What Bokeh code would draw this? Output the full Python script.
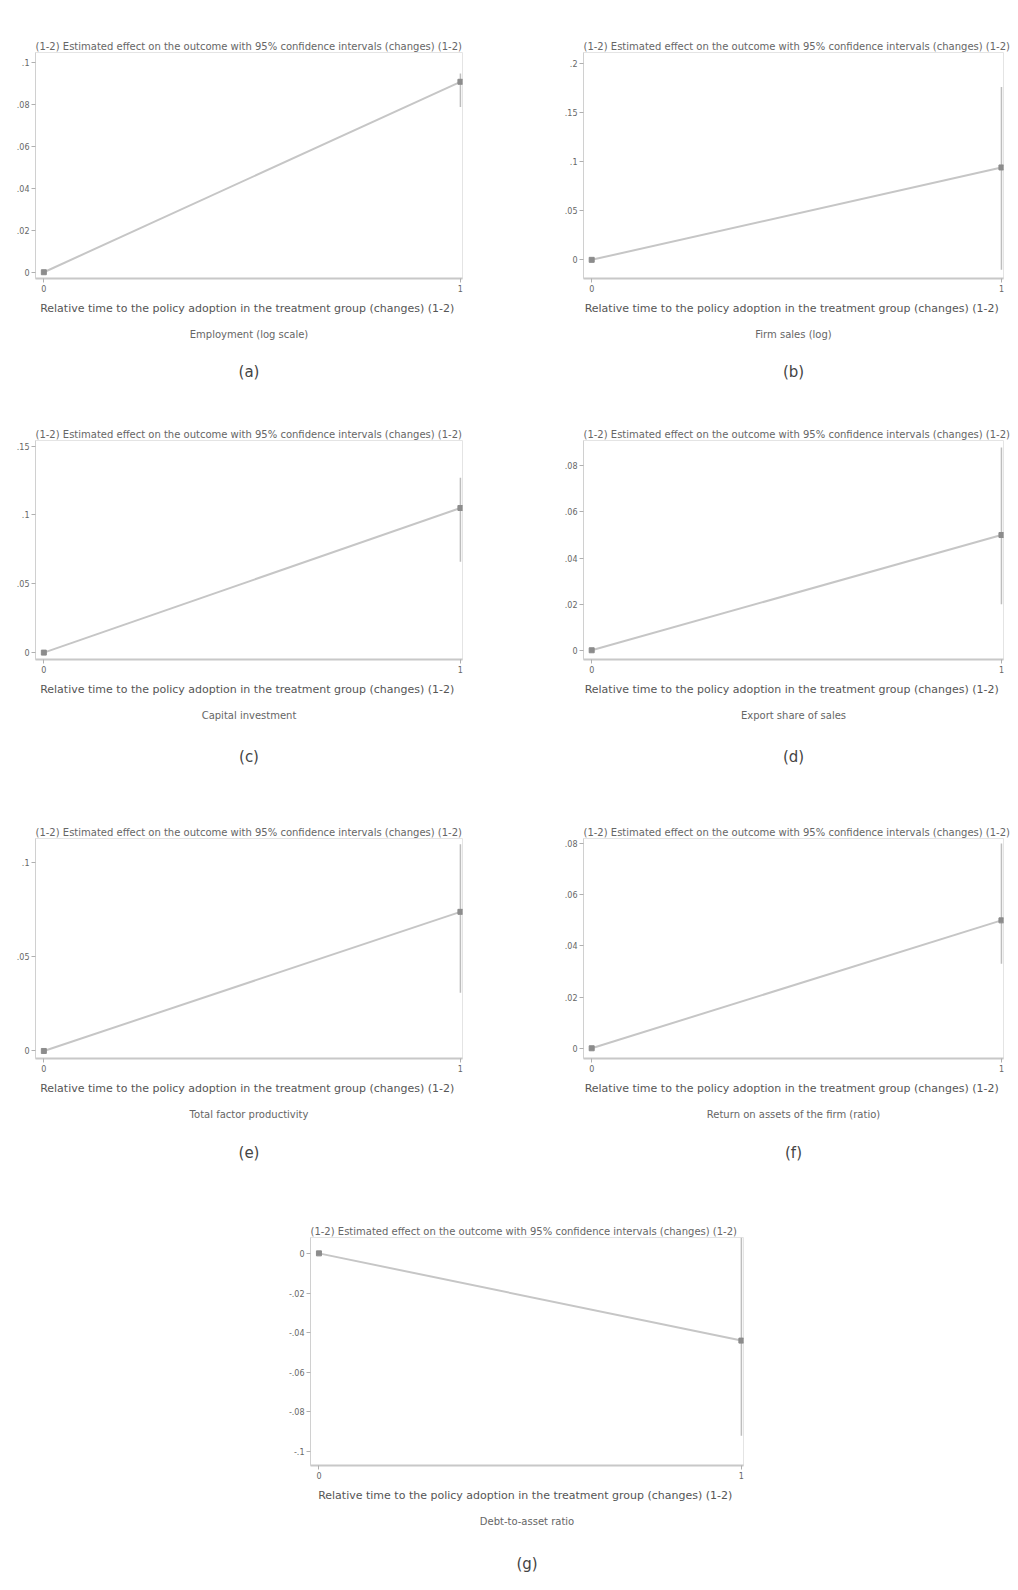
from bokeh.plotting import figure
from bokeh.models import Title, Range1d, FixedTicker, Spacer
from bokeh.layouts import row, column
from bokeh.embed import file_html
from bokeh.resources import INLINE

# ---------------- data ----------------
rel_time = [0, 1]
x_tick_labels = ["0", "1"]

est_a = [0.0, 0.091]
ci_a = [0.079, 0.095]
est_b = [0.0, 0.094]
ci_b = [-0.010, 0.176]
est_c = [0.0, 0.105]
ci_c = [0.066, 0.127]
est_d = [0.0, 0.050]
ci_d = [0.020, 0.088]
est_e = [0.0, 0.074]
ci_e = [0.031, 0.110]
est_f = [0.0, 0.050]
ci_f = [0.033, 0.080]
est_g = [0.0, -0.044]
ci_g = [-0.092, 0.008]

yt_a = [0, 0.02, 0.04, 0.06, 0.08, 0.1]
yl_a = ["0", ".02", ".04", ".06", ".08", ".1"]
yt_b = [0, 0.05, 0.1, 0.15, 0.2]
yl_b = ["0", ".05", ".1", ".15", ".2"]
yt_c = [0, 0.05, 0.1, 0.15]
yl_c = ["0", ".05", ".1", ".15"]
yt_d = [0, 0.02, 0.04, 0.06, 0.08]
yl_d = ["0", ".02", ".04", ".06", ".08"]
yt_e = [0, 0.05, 0.1]
yl_e = ["0", ".05", ".1"]
yt_f = [0, 0.02, 0.04, 0.06, 0.08]
yl_f = ["0", ".02", ".04", ".06", ".08"]
yt_g = [0, -0.02, -0.04, -0.06, -0.08, -0.1]
yl_g = ["0", "-.02", "-.04", "-.06", "-.08", "-.1"]

panel_tags = ["(a)", "(b)", "(c)", "(d)", "(e)", "(f)", "(g)"]
top_title = "(1-2)  Estimated effect on the outcome with 95% confidence intervals (changes)  (1-2)"
x_title = "Relative time to the policy adoption in the treatment group (changes)  (1-2)"
sub_titles = [
    "Employment (log scale)",
    "Firm sales (log)",
    "Capital investment",
    "Export share of sales",
    "Total factor productivity",
    "Return on assets of the firm (ratio)",
    "Debt-to-asset ratio",
]

FONT = "DejaVu Sans"
TXT = "#666666"
TXT_DARK = "#555555"


def make_panel(i, est, ci, yt, yl, yr, width, height, bl, br, bt, bb, tag_gap):
    p = figure(width=width, height=height, output_backend="svg", toolbar_location=None,
               x_range=Range1d(-0.02, 1.005), y_range=Range1d(*yr),
               min_border_left=bl, min_border_right=br,
               min_border_top=bt, min_border_bottom=bb)
    p.title.text = top_title
    p.title.align = "left"
    p.title.text_font = FONT
    p.title.text_font_size = "10px"
    p.title.text_font_style = "normal"
    p.title.text_color = TXT
    p.title.standoff = 2

    p.outline_line_color = "#e4e4e4"
    p.xgrid.visible = False
    p.ygrid.visible = False
    p.background_fill_color = "white"
    p.border_fill_color = "white"

    p.xaxis.ticker = FixedTicker(ticks=rel_time)
    p.xaxis.major_label_overrides = {t: l for t, l in zip(rel_time, x_tick_labels)}
    p.yaxis.ticker = FixedTicker(ticks=yt)
    p.yaxis.major_label_overrides = {t: l for t, l in zip(yt, yl)}
    for ax in (p.xaxis, p.yaxis):
        ax.major_label_text_font = FONT
        ax.major_label_text_font_size = "8px"
        ax.major_label_text_color = TXT
        ax.major_tick_out = 4
        ax.major_tick_in = 0
        ax.minor_tick_out = 0
        ax.minor_tick_in = 0
        ax.major_label_standoff = 2
        ax.major_tick_line_color = "#b0b0b0"
    p.xaxis.axis_line_color = "#c8c8c8"
    p.xaxis.axis_line_width = 2
    p.yaxis.axis_line_color = "#d0d0d0"
    p.xaxis.axis_label = x_title
    p.xaxis.axis_label_text_font = FONT
    p.xaxis.axis_label_text_font_size = "11px"
    p.xaxis.axis_label_text_font_style = "normal"
    p.xaxis.axis_label_text_color = TXT_DARK
    p.xaxis.axis_label_standoff = 7

    sub = Title(text=sub_titles[i], align="center", text_font=FONT, text_font_size="10px",
                text_font_style="normal", text_color=TXT, standoff=19)
    p.add_layout(sub, "below")
    tag = Title(text=panel_tags[i], align="center", text_font=FONT, text_font_size="15px",
                text_font_style="normal", text_color="#444444", standoff=tag_gap)
    p.add_layout(tag, "below")

    p.line(rel_time, est, line_color="#c6c6c6", line_width=2)
    p.segment(x0=[rel_time[1]], y0=[ci[0]], x1=[rel_time[1]], y1=[ci[1]],
              line_color="#bdbdbd", line_width=1.5)
    p.scatter(rel_time, est, marker="square", size=5, fill_color="#8c8c8c",
              line_color="#8c8c8c")
    return p


pa = make_panel(0, est_a, ci_a, yt_a, yl_a, (-0.003, 0.105), 470, 387, 27, 16, 44, 117, 23)
pb = make_panel(1, est_b, ci_b, yt_b, yl_b, (-0.019, 0.211), 455, 387, 28, 7, 44, 117, 23)
pc = make_panel(2, est_c, ci_c, yt_c, yl_c, (-0.005, 0.154), 470, 395, 27, 16, 45, 131, 31)
pd = make_panel(3, est_d, ci_d, yt_d, yl_d, (-0.004, 0.091), 455, 395, 28, 7, 45, 131, 31)
pe = make_panel(4, est_e, ci_e, yt_e, yl_e, (-0.004, 0.113), 470, 390, 27, 16, 48, 122, 25)
pf = make_panel(5, est_f, ci_f, yt_f, yl_f, (-0.004, 0.082), 455, 390, 28, 7, 48, 122, 25)
pg = make_panel(6, est_g, ci_g, yt_g, yl_g, (-0.107, 0.008), 467, 408, 27, 7, 57, 121, 32)

layout = column(
    Spacer(height=8),
    row(Spacer(width=8), pa, Spacer(width=77), pb),
    row(Spacer(width=8), pc, Spacer(width=77), pd),
    row(Spacer(width=8), pe, Spacer(width=77), pf),
    row(Spacer(width=283), pg),
)

open("out.html", "w").write(file_html(layout, INLINE))
